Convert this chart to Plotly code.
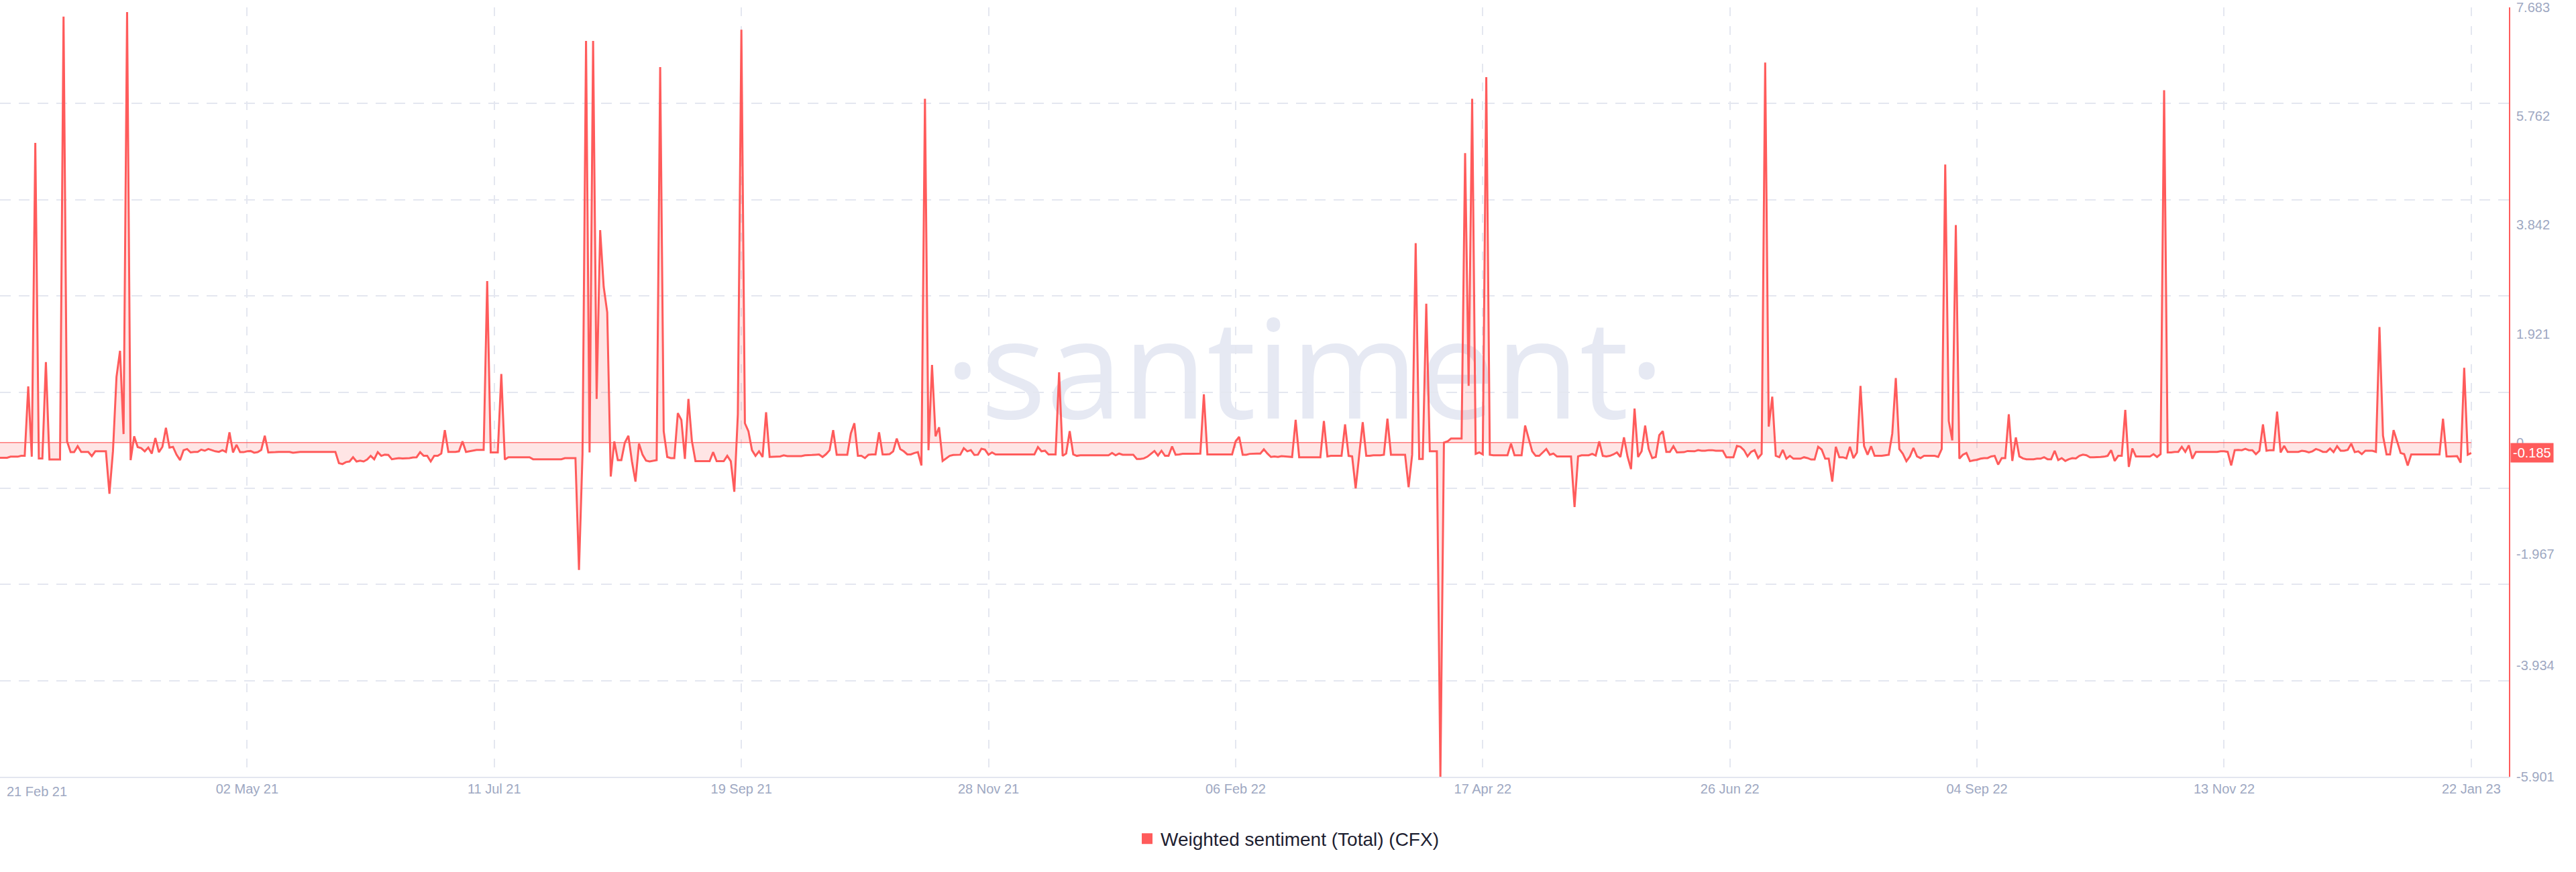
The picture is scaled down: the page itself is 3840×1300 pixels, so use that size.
import plotly.graph_objects as go
import pandas as pd

# ---------------- data ----------------
start_date = "2021-02-21"
series_name = "Weighted sentiment (Total) (CFX)"
sentiment = [
    -0.27, -0.27, -0.27, -0.25, -0.25, -0.25, -0.235, -0.235, 0.99, -0.25,
    5.29, -0.28, -0.28, 1.42, -0.30, -0.30, -0.30, -0.30, 7.52, 0.02,
    -0.17, -0.17, -0.065, -0.165, -0.165, -0.165, -0.24, -0.155, -0.155, -0.155,
    -0.155, -0.905, -0.15, 1.16, 1.62, 0.15, 7.6, -0.31, 0.11, -0.08,
    -0.10, -0.155, -0.09, -0.195, 0.08, -0.17, -0.077, 0.26, -0.09, -0.077,
    -0.215, -0.31, -0.135, -0.115, -0.175, -0.165, -0.165, -0.125, -0.145, -0.115,
    -0.135, -0.155, -0.165, -0.135, -0.165, 0.18, -0.175, -0.04, -0.17, -0.17,
    -0.155, -0.15, -0.18, -0.17, -0.13, 0.12, -0.175, -0.175, -0.17, -0.165,
    -0.165, -0.17, -0.165, -0.18, -0.17, -0.165, -0.165, -0.165, -0.165, -0.17,
    -0.165, -0.165, -0.17, -0.165, -0.165, -0.165, -0.365, -0.38, -0.345, -0.335,
    -0.26, -0.335, -0.32, -0.335, -0.30, -0.235, -0.295, -0.17, -0.235, -0.215,
    -0.22, -0.295, -0.285, -0.275, -0.28, -0.28, -0.275, -0.265, -0.26, -0.17,
    -0.235, -0.235, -0.335, -0.235, -0.235, -0.195, 0.22, -0.165, -0.165, -0.165,
    -0.155, 0.02, -0.165, -0.155, -0.145, -0.13, -0.13, -0.13, 2.85, -0.175,
    -0.175, -0.175, 1.21, -0.30, -0.26, -0.26, -0.26, -0.26, -0.26, -0.26,
    -0.26, -0.295, -0.295, -0.295, -0.295, -0.295, -0.295, -0.295, -0.295, -0.295,
    -0.275, -0.275, -0.275, -0.275, -2.25, -0.2, 7.09, -0.175, 7.09, 0.77,
    3.75, 2.75, 2.3, -0.6, 0.02, -0.31, -0.31, 0.0, 0.12, -0.335,
    -0.69, -0.02, -0.215, -0.32, -0.335, -0.32, -0.31, 6.63, 0.2, -0.255,
    -0.275, -0.275, 0.52, 0.4, -0.29, 0.77, 0.02, -0.33, -0.33, -0.33,
    -0.33, -0.33, -0.17, -0.33, -0.33, -0.33, -0.235, -0.33, -0.87, 0.5,
    7.29, 0.34, 0.2, -0.135, -0.235, -0.155, -0.255, 0.535, -0.255, -0.25,
    -0.25, -0.245, -0.225, -0.24, -0.24, -0.24, -0.24, -0.24, -0.225, -0.225,
    -0.22, -0.215, -0.21, -0.255, -0.205, -0.135, 0.22, -0.215, -0.215, -0.21,
    -0.215, 0.16, 0.34, -0.235, -0.235, -0.275, -0.215, -0.21, -0.21, 0.18,
    -0.21, -0.21, -0.205, -0.155, 0.07, -0.115, -0.155, -0.21, -0.21, -0.185,
    -0.17, -0.405, 6.07, -0.135, 1.37, 0.11, 0.27, -0.325, -0.28, -0.235,
    -0.22, -0.215, -0.215, -0.1, -0.155, -0.135, -0.22, -0.215, -0.11, -0.125,
    -0.215, -0.175, -0.21, -0.21, -0.21, -0.21, -0.21, -0.21, -0.21, -0.21,
    -0.21, -0.21, -0.21, -0.21, -0.08, -0.155, -0.145, -0.21, -0.21, -0.21,
    1.24, -0.235, -0.195, 0.2, -0.21, -0.235, -0.225, -0.225, -0.225, -0.225,
    -0.225, -0.225, -0.225, -0.225, -0.225, -0.185, -0.225, -0.195, -0.215, -0.215,
    -0.215, -0.215, -0.29, -0.29, -0.28, -0.25, -0.2, -0.15, -0.23, -0.145,
    -0.235, -0.235, -0.07, -0.215, -0.21, -0.2, -0.2, -0.2, -0.2, -0.2,
    -0.195, 0.85, -0.21, -0.21, -0.21, -0.21, -0.21, -0.21, -0.21, -0.21,
    0.02, 0.1, -0.215, -0.215, -0.2, -0.195, -0.195, -0.195, -0.12, -0.195,
    -0.255, -0.245, -0.255, -0.24, -0.245, -0.255, -0.255, 0.4, -0.26, -0.26,
    -0.26, -0.26, -0.26, -0.26, -0.26, 0.38, -0.245, -0.235, -0.235, -0.235,
    -0.235, 0.32, -0.235, -0.245, -0.81, -0.22, 0.36, -0.235, -0.235, -0.225,
    -0.225, -0.225, -0.215, 0.42, -0.215, -0.215, -0.215, -0.215, -0.215, -0.79,
    -0.215, 3.52, -0.29, -0.29, 2.45, -0.155, -0.155, -0.155, -5.901, 0.0,
    0.02, 0.07, 0.07, 0.07, 0.07, 5.11, 1.0, 6.07, -0.2, -0.175,
    -0.21, 6.45, -0.215, -0.225, -0.225, -0.225, -0.225, -0.225, -0.02, -0.225,
    -0.225, -0.225, 0.3, 0.06, -0.155, -0.235, -0.235, -0.175, -0.115, -0.215,
    -0.195, -0.245, -0.245, -0.245, -0.245, -0.245, -1.14, -0.245, -0.225, -0.225,
    -0.225, -0.2, -0.23, 0.02, -0.235, -0.245, -0.235, -0.21, -0.175, -0.255,
    0.09, -0.245, -0.47, 0.6, -0.255, -0.155, 0.3, -0.115, -0.275, -0.255,
    0.13, 0.2, -0.165, -0.165, -0.065, -0.175, -0.175, -0.17, -0.15, -0.155,
    -0.155, -0.135, -0.145, -0.145, -0.135, -0.135, -0.145, -0.145, -0.145, -0.26,
    -0.26, -0.26, -0.06, -0.075, -0.135, -0.245, -0.165, -0.135, -0.275, -0.2,
    6.71, 0.28, 0.81, -0.235, -0.26, -0.13, -0.285, -0.235, -0.285, -0.285,
    -0.285, -0.26, -0.275, -0.3, -0.3, -0.075, -0.125, -0.285, -0.285, -0.69,
    -0.075, -0.26, -0.26, -0.28, -0.075, -0.275, -0.175, 1.0, -0.06, -0.215,
    -0.065, -0.235, -0.235, -0.235, -0.225, -0.215, 0.16, 1.14, -0.115, -0.2,
    -0.33, -0.245, -0.095, -0.245, -0.275, -0.235, -0.235, -0.235, -0.235, -0.255,
    -0.115, 4.91, 0.38, 0.04, 3.84, -0.285, -0.215, -0.185, -0.33, -0.315,
    -0.305, -0.285, -0.275, -0.275, -0.245, -0.235, -0.39, -0.275, -0.275, 0.5,
    -0.325, 0.09, -0.245, -0.28, -0.295, -0.295, -0.295, -0.285, -0.285, -0.26,
    -0.295, -0.295, -0.145, -0.31, -0.275, -0.325, -0.295, -0.275, -0.28, -0.235,
    -0.215, -0.225, -0.26, -0.26, -0.26, -0.255, -0.25, -0.235, -0.135, -0.325,
    -0.235, -0.235, 0.575, -0.43, -0.105, -0.245, -0.245, -0.245, -0.245, -0.245,
    -0.205, -0.255, -0.205, 6.22, -0.175, -0.175, -0.165, -0.165, -0.075, -0.165,
    -0.05, -0.285, -0.165, -0.165, -0.165, -0.165, -0.165, -0.165, -0.165, -0.155,
    -0.155, -0.165, -0.405, -0.135, -0.13, -0.135, -0.11, -0.135, -0.135, -0.205,
    -0.145, 0.32, -0.145, -0.135, -0.135, 0.545, -0.175, -0.06, -0.165, -0.165,
    -0.165, -0.165, -0.145, -0.155, -0.175, -0.155, -0.115, -0.135, -0.165, -0.165,
    -0.105, -0.17, -0.065, -0.145, -0.145, -0.13, -0.02, -0.17, -0.155, -0.205,
    -0.145, -0.145, -0.145, -0.165, 2.04, 0.12, -0.21, -0.21, 0.22, 0.02,
    -0.185, -0.205, -0.405, -0.21, -0.21, -0.21, -0.21, -0.21, -0.21, -0.21,
    -0.21, -0.21, 0.42, -0.245, -0.245, -0.24, -0.24, -0.355, 1.32, -0.215,
    -0.185,
]

tick_dates = ["2021-02-21", "2021-05-02", "2021-07-11", "2021-09-19",
              "2021-11-28", "2022-02-06", "2022-04-17", "2022-06-26",
              "2022-09-04", "2022-11-13", "2023-01-22"]
tick_labels = ["21 Feb 21", "02 May 21", "11 Jul 21", "19 Sep 21",
               "28 Nov 21", "06 Feb 22", "17 Apr 22", "26 Jun 22",
               "04 Sep 22", "13 Nov 22", "22 Jan 23"]
y_tick_values = [7.683, 5.762, 3.842, 1.921, 0, -1.967, -3.934, -5.901]
y_tick_labels = ["7.683", "5.762", "3.842", "1.921", "0", "-1.967", "-3.934", "-5.901"]
y_min, y_max = -5.901, 7.683
x_range = ["2021-02-21 00:00", "2023-02-01 16:00"]
last_label = "-0.185"
watermark = "\u00b7santiment\u00b7"

# ---------------- styling ----------------
RED = "#ff5b5b"
FILL = "rgba(255,91,91,0.16)"
GRID = "#e4e7f0"
TICK_COLOR = "#9ea8c2"
FONT = "Liberation Sans, Arial, sans-serif"

dates = pd.date_range(start_date, periods=len(sentiment), freq="D")
grid_vals = [y_max - k * (y_max - y_min) / 8 for k in range(9)]

fig = go.Figure()

# area fill (to zero) on the base axis
fig.add_trace(go.Scatter(
    x=dates, y=sentiment, mode="lines", line=dict(width=0, color=RED),
    fill="tozeroy", fillcolor=FILL, yaxis="y", showlegend=False,
    hoverinfo="skip"))
# zero reference line along the data span
fig.add_trace(go.Scatter(
    x=[dates[0], dates[-1]], y=[0, 0], mode="lines",
    line=dict(width=1.5, color="rgba(255,91,91,0.8)"), yaxis="y2",
    showlegend=False, hoverinfo="skip"))
# main line
fig.add_trace(go.Scatter(
    x=dates, y=sentiment, mode="lines", line=dict(width=3, color=RED),
    yaxis="y2", showlegend=False, name=series_name))
# legend entry (square swatch)
fig.add_trace(go.Scatter(
    x=[None], y=[None], mode="markers", yaxis="y2",
    marker=dict(symbol="square", size=16, color=RED),
    name=series_name, showlegend=True))

fig.update_layout(
    width=3840, height=1300,
    margin=dict(l=0, r=100, t=11, b=142),
    paper_bgcolor="white", plot_bgcolor="white",
    font=dict(family=FONT, color=TICK_COLOR, size=20),
    xaxis=dict(
        type="date", range=x_range, tickvals=tick_dates,
        ticktext=[""] + tick_labels[1:],
        showgrid=True, gridcolor=GRID, gridwidth=2, griddash="13px,15px",
        showline=True, linecolor="#e3e6f0", linewidth=2,
        zeroline=False, ticks="outside", ticklen=0,
        tickfont=dict(family=FONT, size=20, color=TICK_COLOR),
        ticklabelstandoff=-1, automargin=False),
    yaxis=dict(
        range=[y_min, y_max], tickvals=grid_vals, showticklabels=False,
        showgrid=True, gridcolor=GRID, gridwidth=2, griddash="16px,12px",
        zeroline=False, showline=False, automargin=False),
    yaxis2=dict(
        range=[y_min, y_max], overlaying="y", side="right",
        tickvals=y_tick_values, ticktext=y_tick_labels,
        showgrid=False, zeroline=False, showline=True,
        linecolor=RED, linewidth=2, ticks="outside", ticklen=0,
        ticklabelstandoff=5,
        tickfont=dict(family=FONT, size=20, color=TICK_COLOR),
        automargin=False),
    legend=dict(
        orientation="h", xref="container", yref="container",
        x=0.5, xanchor="center", y=0.038, yanchor="middle",
        font=dict(family=FONT, size=28, color="#1e2131"),
        bgcolor="rgba(0,0,0,0)"),
    shapes=[dict(
        type="rect", xref="paper", yref="paper",
        x0=0.30, x1=0.74, y0=0.2, y1=0.846, layer="below",
        line=dict(width=0), fillcolor="rgba(0,0,0,0)",
        label=dict(text=watermark, textposition="middle center",
                   font=dict(family="Open Sans, sans-serif",
                             size=205, color="#e6e9f3")))],
    annotations=[
        dict(x=tick_dates[0], xref="x", y=0, yref="paper",
             text=tick_labels[0], showarrow=False, xanchor="left",
             yanchor="top", xshift=8, yshift=-9,
             font=dict(family=FONT, size=20, color=TICK_COLOR)),
        dict(x=1, xref="paper", y=sentiment[-1], yref="y2",
             text=last_label, showarrow=False, xanchor="left",
             yanchor="middle", xshift=2, bgcolor=RED, borderpad=3,
             font=dict(family=FONT, size=20, color="white")),
    ],
)

fig.write_html("out.html", config={"displayModeBar": False},
               post_script="document.body.style.margin='0px';")
